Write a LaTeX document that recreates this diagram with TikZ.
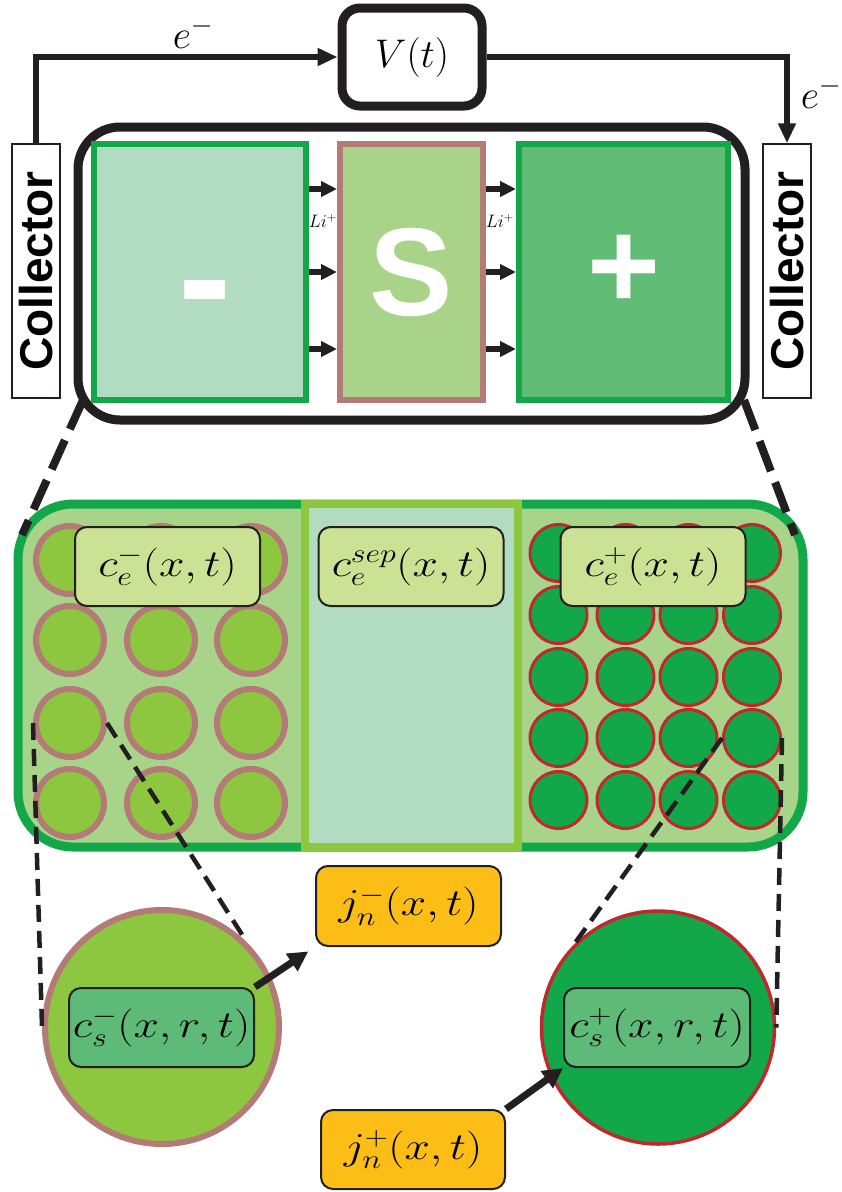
\RequirePackage{fix-cm}
\documentclass[tikz,border=0pt]{standalone}
\usepackage{amsmath}
\usepackage{fontspec}
\newfontfamily\headfont{Liberation Sans}
\usetikzlibrary{arrows.meta}
\definecolor{ink}{HTML}{231F20}
\definecolor{grn}{HTML}{12A84A}
\definecolor{negfill}{HTML}{B1DCC2}
\definecolor{sepfill}{HTML}{A9D388}
\definecolor{rose}{HTML}{B47A78}
\definecolor{posfill}{HTML}{61BD76}
\definecolor{panelfill}{HTML}{A8D48A}
\definecolor{lsepfill}{HTML}{B2DCC2}
\definecolor{lime}{HTML}{8DC63F}
\definecolor{dred}{HTML}{C1272D}
\definecolor{lblfill}{HTML}{CBE294}
\definecolor{csfill}{HTML}{5EBB77}
\definecolor{amber}{HTML}{FBBD16}
\newcommand\mlbl[1]{\scalebox{1.2}[1]{$#1$}}
\tikzset{
  wire/.style={line width=6pt, draw=ink, -{Triangle[length=20pt,width=17pt]}},
  liarrow/.style={line width=6pt, draw=ink, -{Triangle[length=16pt,width=15pt]}},
  bigarrow/.style={line width=7pt, draw=ink, -{Triangle[length=20pt,width=20pt]}},
  zoomthick/.style={line width=8pt, draw=ink, dash pattern=on 32pt off 12pt},
  zoomthin/.style={line width=4.5pt, draw=ink, dash pattern=on 17pt off 9pt},
  collbox/.style={draw=ink, line width=1.5pt, fill=white, minimum width=48pt, minimum height=254pt, inner sep=0pt, font=\headfont\bfseries\fontsize{46}{46}\selectfont},
  electrode/.style={line width=6pt, minimum height=256pt, inner sep=0pt, text=white, font=\headfont\bfseries\fontsize{125}{125}\selectfont},
  smallc/.style={circle, draw=rose, fill=lime, line width=6pt, minimum size=68pt, inner sep=0pt},
  smallp/.style={circle, draw=dred, fill=grn, line width=3pt, minimum size=57pt, inner sep=0pt},
  lblbox/.style={draw=ink, line width=2pt, rounded corners=12pt, minimum width=185pt, minimum height=79pt, inner sep=0pt, font=\fontsize{38}{40}\selectfont},
}
\begin{document}
\begin{tikzpicture}[x=1pt,y=-1pt]
\useasboundingbox (0,0) rectangle (842,1192);
% ---------- top cell ----------
\node[draw=ink, line width=9pt, rounded corners=42pt, minimum width=667pt, minimum height=293pt] (cell) at (411.5,273.5) {};
\node[electrode, draw=grn, fill=negfill, minimum width=212pt] (neg) at (200,272) {};
\node[text=white, font=\headfont\bfseries\fontsize{160}{160}\selectfont] (minus) at (205,306) {-};
\node[electrode, draw=rose, fill=sepfill, minimum width=143pt] (sep) at (411.5,272) {S};
\node[electrode, draw=grn, fill=posfill, minimum width=209pt] (pos) at (623.5,272) {+};
\foreach \s in {83,0,-77}{
  \draw[liarrow] ([yshift=\s pt]neg.east) -- ([yshift=\s pt]sep.west);
  \draw[liarrow] ([yshift=\s pt]sep.east) -- ([yshift=\s pt]pos.west);
}
\node[font=\fontsize{18}{18}\selectfont] (li1) at (323,221) {$Li^+$};
\node[font=\fontsize{18}{18}\selectfont] (li2) at (500,221) {$Li^+$};
\node[collbox] (colL) at (36,271) {\rotatebox{90}{Collector}};
\node[collbox] (colR) at (787,271) {\rotatebox{90}{Collector}};
\node[draw=ink, fill=white, line width=9pt, rounded corners=18pt, minimum width=140pt, minimum height=98pt, font=\fontsize{40}{40}\selectfont] (V) at (412,57) {$V(t)$};
\draw[wire] (colL.north) |- (V.west);
\draw[wire] (V.east) -| (colR.north);
\node[font=\fontsize{40}{40}\selectfont] (eL) at (193,33) {$e^-$};
\node[font=\fontsize{40}{40}\selectfont] (eR) at (821,93) {$e^-$};
% ---------- lower panel ----------
\node[draw=grn, fill=panelfill, line width=9pt, rounded corners=55pt, minimum width=785pt, minimum height=343pt] (panel) at (410.5,675.5) {};
\node[draw=lime, fill=lsepfill, line width=8pt, minimum width=213pt, minimum height=343pt] (lsep) at (411.5,675.5) {};
\coordinate (zl1) at (83,400);
\coordinate (zl2) at (22,535);
\coordinate (zr1) at (744,400);
\coordinate (zr2) at (795,535);
\draw[zoomthick] (zl1) -- (zl2);
\draw[zoomthick] (zr1) -- (zr2);
\foreach \c/\x in {1/70,2/161,3/251}{
  \foreach \r/\y in {1/560,2/640,3/723,4/803}{
    \node[smallc] (n\c\r) at (\x,\y) {};
  }
}
\foreach \c/\x in {1/558.5,2/625.5,3/688.5,4/752}{
  \foreach \r/\y in {1/553,2/615,3/677,4/738,5/800}{
    \node[smallp] (p\c\r) at (\x,\y) {};
  }
}
\node[lblbox, fill=lblfill] (ceL) at (167.5,566.5) {\mlbl{c_e^-(x,t)}};
\node[lblbox, fill=lblfill] (ceS) at (411,566.5) {\mlbl{c_e^{sep}(x,t)}};
\node[lblbox, fill=lblfill] (ceR) at (653,566.5) {\mlbl{c_e^+(x,t)}};
% ---------- particles ----------
\node[circle, draw=rose, fill=lime, line width=6pt, minimum size=234pt, inner sep=0pt] (bigL) at (162,1027) {};
\node[circle, draw=dred, fill=grn, line width=3.5pt, minimum size=233pt, inner sep=0pt] (bigR) at (658,1027.5) {};
\draw[zoomthin] (n13.west) -- (bigL.west);
\draw[zoomthin] (n13.east) -- (bigL.north east);
\draw[zoomthin] (p44.east) -- (bigR.east);
\draw[zoomthin] (p44.west) -- (bigR.north west);
\node[lblbox, fill=csfill] (csL) at (161.5,1027.5) {\mlbl{c_s^-(x,r,t)}};
\node[lblbox, fill=csfill, minimum width=186pt] (csR) at (657,1027.5) {\mlbl{c_s^+(x,r,t)}};
\node[lblbox, fill=amber, minimum height=80pt] (jL) at (408.5,906) {\mlbl{j_n^-(x,t)}};
\node[lblbox, fill=amber, minimum width=184pt] (jR) at (413,1149.5) {\mlbl{j_n^+(x,t)}};
\draw[bigarrow, shorten >=8pt] (csL.north east) -- (jL.south west);
\draw[bigarrow] (jR.north east) -- (csR.south west);
\end{tikzpicture}
\end{document}
